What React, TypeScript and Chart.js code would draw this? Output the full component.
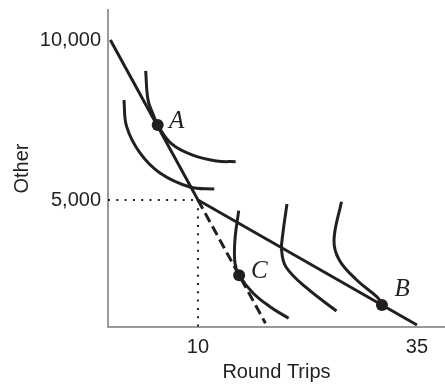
import React, { useEffect, useRef } from "react";
import { Chart, registerables } from "chart.js";

Chart.register(...registerables);

// Axis ticks
const xTicks = [10, 35];
const yTicks = [5000, 10000];

// Budget line (kinked)
const budgetX = [0, 10, 35];
const budgetY = [10000, 5000, 1094];

// Dashed extension of original budget line
const dashedX = [10, 17.7];
const dashedY = [5000, 1150];

// Indifference curves
const icAX = [4.03, 4.3, 4.85, 5.4, 7.0, 9.4, 12.1, 14.3];
const icAY = [9031, 8125, 7700, 7344, 6750, 6400, 6220, 6197];

const icLowX = [1.55, 1.86, 3.38, 5.66, 9.09, 11.86];
const icLowY = [8125, 7291, 6469, 5844, 5406, 5344];

const icCX = [14.65, 14.22, 14.22, 14.68, 16.31, 18.22, 20.35];
const icCY = [4666, 3750, 3031, 2656, 2084, 1666, 1303];

const icMidX = [20.16, 19.7, 19.55, 20.05, 22.41, 25.81];
const icMidY = [4875, 3969, 3438, 2906, 2250, 1531];

const icBX = [26.38, 25.53, 26.13, 28.12, 30.4, 31.04];
const icBY = [4947, 3750, 3125, 2500, 1978, 1750];

// Equilibrium points
const pointNames = ["A", "B", "C"];
const pointX = [5.4, 31.0, 14.7];
const pointY = [7344, 1719, 2650];
const labelX = [7.57, 33.3, 17.0];
const labelY = [7470, 2219, 2766];

// Reference dotted lines
const refX = 10;
const refY = 5000;

const X_MIN = -0.27;
const X_MAX = 38.2;
const Y_MIN = 1031;
const Y_MAX = 10937;

const INK = "#231f20";
const AXIS = "#9a9a9a";

const zip = (xs: number[], ys: number[]) => xs.map((x, i) => ({ x, y: ys[i] }));

export default function App() {
  const ref = useRef<HTMLCanvasElement | null>(null);

  useEffect(() => {
    if (!ref.current) return;
    const curve = (xs: number[], ys: number[]) => ({
      data: zip(xs, ys),
      showLine: true,
      borderColor: INK,
      borderWidth: 3,
      pointRadius: 0,
      tension: 0.4,
      fill: false,
    });

    const labelPlugin = {
      id: "ptLabels",
      afterDatasetsDraw(chart: any) {
        const { ctx, scales } = chart;
        ctx.save();
        ctx.fillStyle = INK;
        ctx.font = "italic 25px 'Liberation Serif', 'Times New Roman', serif";
        ctx.textAlign = "center";
        ctx.textBaseline = "middle";
        pointNames.forEach((n, i) => {
          ctx.fillText(n, scales.x.getPixelForValue(labelX[i]), scales.y.getPixelForValue(labelY[i]));
        });
        ctx.restore();
      },
    };

    const zeroPad = (s: any) => {
      s.paddingTop = 0;
      s.paddingBottom = 0;
      s.paddingLeft = 0;
      s.paddingRight = 0;
    };

    const chart = new Chart(ref.current, {
      type: "scatter",
      data: {
        datasets: [
          {
            data: [
              { x: X_MIN, y: refY },
              { x: refX, y: refY },
            ],
            showLine: true,
            borderColor: INK,
            borderWidth: 2,
            borderDash: [2, 6.3],
            pointRadius: 0,
          },
          {
            data: [
              { x: refX, y: refY },
              { x: refX, y: Y_MIN },
            ],
            showLine: true,
            borderColor: INK,
            borderWidth: 2,
            borderDash: [2, 6.3],
            pointRadius: 0,
          },
          {
            data: zip(dashedX, dashedY),
            showLine: true,
            borderColor: INK,
            borderWidth: 3,
            borderDash: [10, 5],
            pointRadius: 0,
          },
          {
            data: zip(budgetX, budgetY),
            showLine: true,
            borderColor: INK,
            borderWidth: 3,
            pointRadius: 0,
            tension: 0,
          },
          curve(icAX, icAY),
          curve(icLowX, icLowY),
          curve(icCX, icCY),
          curve(icMidX, icMidY),
          curve(icBX, icBY),
          {
            data: zip(pointX, pointY),
            showLine: false,
            pointRadius: 6,
            pointHoverRadius: 6,
            pointBackgroundColor: INK,
            pointBorderColor: INK,
            pointBorderWidth: 0,
          },
        ] as any,
      },
      options: {
        responsive: false,
        animation: false,
        devicePixelRatio: 1,
        layout: { autoPadding: false, padding: { top: 10, right: 0, left: 0, bottom: 0 } },
        plugins: { legend: { display: false }, tooltip: { enabled: false } },
        scales: {
          x: {
            type: "linear",
            min: X_MIN,
            max: X_MAX,
            afterBuildTicks: (s: any) => {
              s.ticks = xTicks.map((v) => ({ value: v }));
            },
            afterFit: (s: any) => {
              s.height = 58;
              zeroPad(s);
            },
            grid: { display: false, drawTicks: false },
            border: { display: true, color: AXIS, width: 2 },
            ticks: {
              padding: 8,
              color: INK,
              font: { family: "'Liberation Sans', Arial, sans-serif", size: 20 },
              callback: (v: any) => String(v),
            },
            title: {
              display: true,
              text: "Round Trips",
              color: INK,
              font: { family: "'Liberation Sans', Arial, sans-serif", size: 20 },
              padding: { top: 0, bottom: 1 },
            },
          },
          y: {
            type: "linear",
            min: Y_MIN,
            max: Y_MAX,
            afterBuildTicks: (s: any) => {
              s.ticks = yTicks.map((v) => ({ value: v }));
            },
            afterFit: (s: any) => {
              s.width = 108;
              zeroPad(s);
            },
            grid: { display: false, drawTicks: false },
            border: { display: true, color: AXIS, width: 2 },
            ticks: {
              padding: 7,
              color: INK,
              font: { family: "'Liberation Sans', Arial, sans-serif", size: 20 },
              callback: (v: any) => Number(v).toLocaleString("en-US"),
            },
            title: {
              display: true,
              text: "Other",
              color: INK,
              font: { family: "'Liberation Sans', Arial, sans-serif", size: 20 },
              padding: { top: 10, bottom: 0 },
            },
          },
        },
      },
      plugins: [labelPlugin],
    });
    return () => chart.destroy();
  }, []);

  return (
    <canvas
      ref={ref}
      width={445}
      height={385}
      style={{ position: "fixed", left: 0, top: 0, width: 445, height: 385 }}
    />
  );
}
